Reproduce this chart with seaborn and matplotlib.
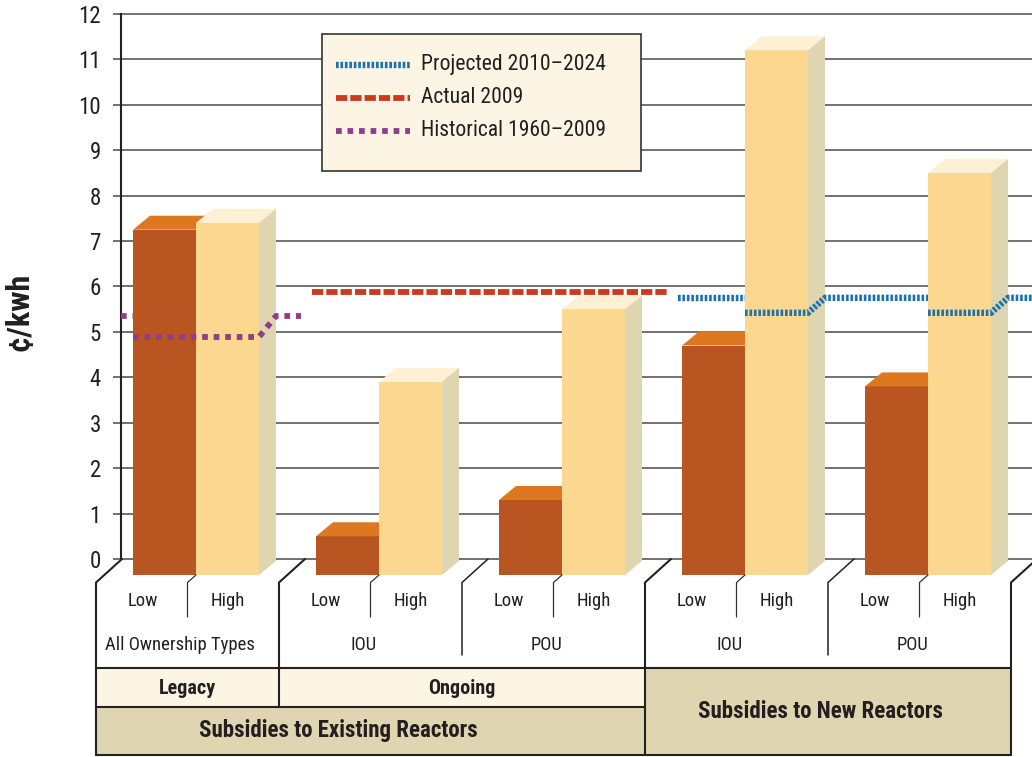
import numpy as np
import pandas as pd
import matplotlib
matplotlib.use("Agg")
import matplotlib.pyplot as plt
import seaborn as sns
from matplotlib.patches import Polygon, Rectangle
from matplotlib.colors import to_rgb
from matplotlib import font_manager

# ---------------- data ----------------
groups = ["All Ownership Types", "IOU", "POU", "IOU", "POU"]
tiers = ["Low", "High"]
low_values = [7.25, 0.5, 1.3, 4.7, 3.8]
high_values = [7.4, 3.9, 5.5, 11.2, 8.5]
stage_labels = ["Legacy", "Ongoing"]
stage_spans = [(0, 0), (1, 2)]
section_labels = ["Subsidies to Existing Reactors", "Subsidies to New Reactors"]
section_spans = [(0, 2), (3, 4)]
ref_labels = ["Projected 2010\u20132024", "Actual 2009", "Historical 1960\u20132009"]
ref_values = [5.75, 5.88, 5.35]
ref_spans = [(3, 4), (1, 2), (0, 0)]
yticks = list(range(0, 13))
ylabel = "\u00a2/kwh"

# ---------------- style / layout ----------------
W, H = 1032, 757
X0PX, XPITCH = 187.5, 183.0
Y0PX, YPITCH = 559.0, 45.42


def xd(px):
    return (px - X0PX) / XPITCH


def yd(py):
    return (Y0PX - py) / YPITCH


# pick a condensed sans if one is installed, else regular Liberation Sans scaled down
entries = font_manager.fontManager.ttflist
names = {f.name for f in entries}
FONT, STRETCH, FS = "Liberation Sans", "normal", 0.86
for cand in ["Liberation Sans Narrow", "Roboto Condensed", "Open Sans Condensed",
             "DejaVu Sans Condensed", "Noto Sans Condensed"]:
    if cand in names:
        FONT, STRETCH, FS = cand, "condensed", 1.0
        break
else:
    for f in entries:
        if f.stretch in ("condensed", "semi-condensed") and (
                "Sans" in f.name or "Roboto" in f.name):
            FONT, STRETCH, FS = f.name, f.stretch, 1.0
            break

colors = {"Low": "#B85521", "High": "#FCD78F"}
top_colors = {"Low": "#DE7820", "High": "#FEF0D3"}
side_color = "#DFD5B1"
ref_colors = ["#1B72AC", "#CB3A1F", "#8E3F88"]
ref_lw = [4.6, 4.2, 4.2]
ref_dashes = [(1.9, 1.3), (8.1, 2.2), (4.1, 4.2)]
ref_drop_px = [15, 18, 21]
TXT = "#231F20"
LINE = "#222222"
CREAM = "#FDF5E4"
TAN = "#DFD5B0"

sns.set_style("white")
plt.rcParams["font.family"] = [FONT, "DejaVu Sans"]
plt.rcParams["font.stretch"] = STRETCH
plt.rcParams["lines.scale_dashes"] = False

fig = plt.figure(figsize=(W / 100, H / 100), dpi=100)
ax = fig.add_axes([121 / W, 0, (W - 121) / W, 1])

BAR_SHIFT = 8.5 / XPITCH
BAR_W = 63 / XPITCH
TOP_DX = 17 / XPITCH
TOP_DY = 14 / YPITCH
FRONT_BOTTOM = yd(575)

pos = [i + BAR_SHIFT for i in range(len(groups))]
df = pd.DataFrame({
    "pos": pos * 2,
    "tier": [tiers[0]] * len(groups) + [tiers[1]] * len(groups),
    "value": low_values + high_values,
})
sns.barplot(data=df, x="pos", y="value", hue="tier", hue_order=tiers,
            native_scale=True, width=2 * BAR_W, palette=colors, saturation=1,
            errorbar=None, legend=False, linewidth=0, ax=ax)

fronts = []
for p in list(ax.patches):
    fc = p.get_facecolor()[:3]
    tier = "Low" if np.allclose(fc, to_rgb(colors["Low"]), atol=0.01) else "High"
    x0, w, v = p.get_x(), p.get_width(), p.get_height()
    x1 = x0 + w
    p.set_y(FRONT_BOTTOM)
    p.set_height(v - FRONT_BOTTOM)
    base_z = 2 if tier == "Low" else 3
    p.set_zorder(base_z)
    ax.add_patch(Polygon([(x0, v), (x1, v), (x1 + TOP_DX, v + TOP_DY), (x0 + TOP_DX, v + TOP_DY)],
                         closed=True, facecolor=top_colors[tier], edgecolor="none", zorder=base_z + 0.5))
    if tier == "High":
        ax.add_patch(Polygon([(x1, FRONT_BOTTOM), (x1, v), (x1 + TOP_DX, v + TOP_DY),
                              (x1 + TOP_DX, FRONT_BOTTOM + TOP_DY)],
                             closed=True, facecolor=side_color, edgecolor="none", zorder=base_z + 0.5))
    fronts.append((x0, x1, v))
fronts.sort()

# ---------------- reference lines ----------------
for lab, L, (s0, s1), c, lw, ds, dpx in zip(ref_labels, ref_values, ref_spans, ref_colors,
                                              ref_lw, ref_dashes, ref_drop_px):
    xa, xb = s0 - 0.5 + 0.18, s1 + 0.5 + 0.12
    if s0 == 0:
        xa = xd(121)
    drop = dpx / YPITCH
    cover = []
    for x0, x1, v in fronts:
        if v > L and x0 >= xa - 0.1 and x1 <= xb:
            if cover and abs(cover[-1][1] - x0) < 1e-6:
                cover[-1] = (cover[-1][0], x1)
            else:
                cover.append((x0, x1))
    paths = []
    cur = [(xa, L)]
    for x0, x1 in cover:
        cur.append((x0, L))
        paths.append(cur)
        cur = [(x0, L - drop), (x1, L - drop), (x1 + TOP_DX, L)]
    cur.append((xb, L))
    paths.append(cur)
    for pth in paths:
        xs, ys = zip(*pth)
        ax.plot(xs, ys, color=c, lw=lw, dashes=ds, dash_capstyle="butt", zorder=6)

# ---------------- axes ----------------
ax.set_xlim(xd(121), xd(W))
ax.set_ylim(yd(H), yd(0))
ax.set_xlabel("")
ax.set_ylabel("")
ax.set_xticks([])
ax.set_yticks(yticks)
ax.set_yticklabels([str(t) for t in yticks], fontsize=16.5 * FS, color=TXT)
ax.tick_params(axis="y", length=5.8, width=1.3, color="#666666", pad=8.6, left=True)
ax.set_axisbelow(True)
ax.yaxis.grid(True, color="#666666", lw=1.3)
for s in ["top", "right", "bottom"]:
    ax.spines[s].set_visible(False)
ax.spines["left"].set_bounds(0, 12)
ax.spines["left"].set_color(LINE)
ax.spines["left"].set_linewidth(1.5)
ax.patch.set_alpha(0)

fig.text(19 / W, 1 - 312 / H, ylabel, rotation=90, fontsize=23 * FS, fontweight="bold",
         color=TXT, ha="center", va="center")

# ---------------- category table ----------------
FLOOR_FRONT = yd(582.5)
FLOOR_DX = 26 / XPITCH
ROW1_BOTTOM = yd(617)
DIV2_BOTTOM = yd(655)
ROW2_BOTTOM = yd(668)
ROW3_BOTTOM = yd(707)
TABLE_BOTTOM = yd(755)
n = len(groups)
kw = dict(clip_on=False, zorder=4)

ax.add_patch(Rectangle((-0.5, ROW3_BOTTOM), 3.0, ROW2_BOTTOM - ROW3_BOTTOM, facecolor=CREAM,
                       edgecolor="none", clip_on=False, zorder=1))
ax.add_patch(Rectangle((-0.5, TABLE_BOTTOM), 3.0, ROW3_BOTTOM - TABLE_BOTTOM, facecolor=TAN,
                       edgecolor="none", clip_on=False, zorder=1))
ax.add_patch(Rectangle((2.5, TABLE_BOTTOM), 2.0, ROW2_BOTTOM - TABLE_BOTTOM, facecolor=TAN,
                       edgecolor="none", clip_on=False, zorder=1))

bounds = [(-0.5, TABLE_BOTTOM), (0.5, ROW3_BOTTOM), (2.5, TABLE_BOTTOM), (4.5, TABLE_BOTTOM)]
for bx, bottom in bounds:
    ax.plot([bx + FLOOR_DX, bx, bx], [0, FLOOR_FRONT, bottom], color=LINE, lw=1.5, **kw)
for i in range(n - 1):
    if stage_spans[1][0] <= i < stage_spans[1][1] or section_spans[1][0] <= i < section_spans[1][1]:
        bx = i + 0.5
        ax.plot([bx + FLOOR_DX, bx, bx], [0, FLOOR_FRONT, DIV2_BOTTOM], color=LINE, lw=1.1, **kw)
for i in range(n):
    ax.plot([i + BAR_SHIFT, i, i], [FRONT_BOTTOM, FLOOR_FRONT, ROW1_BOTTOM], color="#333333",
            lw=0.9, **kw)
ax.plot([-0.5, 4.5], [ROW2_BOTTOM] * 2, color=LINE, lw=1.5, **kw)
ax.plot([-0.5, 2.5], [ROW3_BOTTOM] * 2, color=LINE, lw=1.5, **kw)
ax.plot([-0.5, 4.5], [TABLE_BOTTOM] * 2, color=LINE, lw=1.5, **kw)

for i, g in enumerate(groups):
    ax.text(i - 0.245, yd(601), tiers[0], ha="center", va="center", fontsize=13.5 * FS,
            color=TXT, clip_on=False)
    ax.text(i + 0.22, yd(601), tiers[1], ha="center", va="center", fontsize=13.5 * FS,
            color=TXT, clip_on=False)
    ax.text(i - 0.04, yd(645), g, ha="center", va="center", fontsize=13.4 * FS, color=TXT,
            clip_on=False)
for lab, (a, b) in zip(stage_labels, stage_spans):
    ax.text((a + b) / 2, yd(688), lab, ha="center", va="center", fontsize=14.5 * FS, color=TXT,
            fontweight="bold", clip_on=False, zorder=5)
sec_dx = [-0.175, -0.04]
sec_y = [yd(731), yd(712)]
for lab, (a, b), dx, yy in zip(section_labels, section_spans, sec_dx, sec_y):
    ax.text((a + b) / 2 + dx, yy, lab, ha="center", va="center", fontsize=16.5 * FS, color=TXT,
            fontweight="bold", clip_on=False, zorder=5)

# ---------------- legend ----------------
ax.add_patch(Rectangle((xd(322), yd(171)), xd(641) - xd(322), yd(34) - yd(171),
                       facecolor=CREAM, edgecolor="#333333", lw=1.2, zorder=7))
for k, (lab, c, lw, ds) in enumerate(zip(ref_labels, ref_colors, ref_lw, ref_dashes)):
    yy = yd(65 + 33 * k)
    ax.plot([xd(336), xd(410)], [yy, yy], color=c, lw=lw, dashes=ds, dash_capstyle="butt", zorder=8)
    ax.text(xd(421), yy, lab, ha="left", va="center", fontsize=15.6 * FS, color=TXT, zorder=8)

fig.savefig("out.png", dpi=100)
